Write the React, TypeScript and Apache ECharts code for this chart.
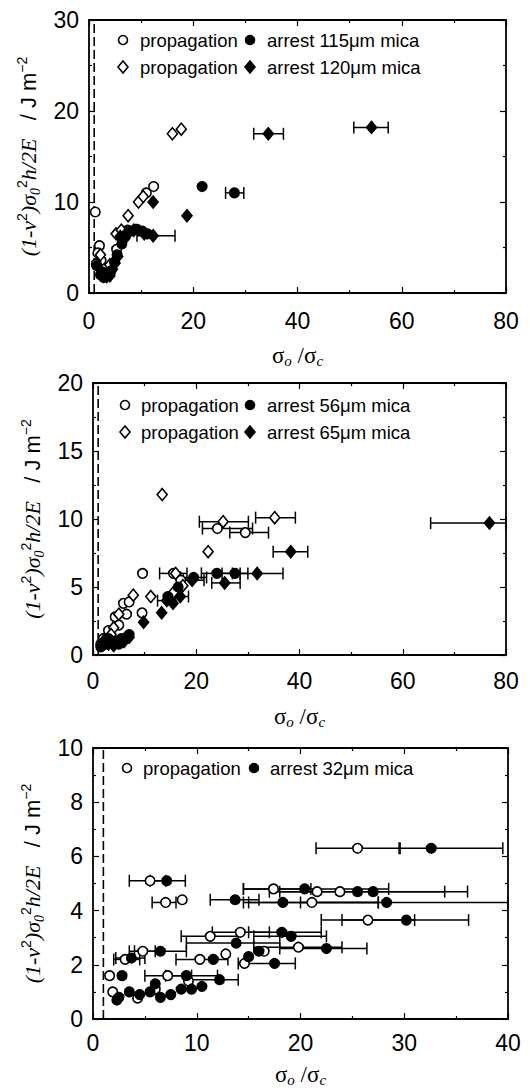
import React, { useEffect, useRef } from "react";
import * as echarts from "echarts";

// Tuples: [x, y] or [x, y, xLow, xHigh] (horizontal error bar)
// Panel 1 — 115 µm and 120 µm mica
const p1OpenCircle = [[1.2, 8.9], [2.0, 5.2], [1.7, 4.4], [2.3, 3.6], [2.8, 2.6], [3.5, 2.2], [4.3, 2.9], [5.3, 4.8], [6.4, 5.8], [7.4, 6.9], [11.0, 11.0], [12.4, 11.7], [1.4, 3.2], [9.0, 7.0]];
const p1FilledCircle = [[1.5, 3.0], [2.2, 2.0], [2.8, 1.7], [3.5, 2.0], [4.2, 2.4], [4.9, 3.4], [5.4, 4.2], [6.3, 5.4], [7.0, 6.2], [8.0, 6.8], [9.2, 7.0], [10.2, 6.8], [11.2, 6.5], [21.7, 11.7], [27.9, 11.0, 26.2, 29.7]];
const p1OpenDiamond = [[7.5, 8.5], [9.5, 10.0], [10.4, 10.6], [16.0, 17.5], [17.7, 18.0], [5.2, 6.5], [6.2, 6.9], [3.0, 2.1], [4.0, 3.1], [2.2, 4.2]];
const p1FilledDiamond = [[2.5, 2.3], [3.4, 1.8], [4.5, 2.6], [5.5, 4.0], [6.0, 6.2], [7.2, 6.6], [8.6, 6.9], [10.6, 6.5], [12.3, 6.3, 9.2, 16.5], [12.3, 10.0], [18.8, 8.5], [34.4, 17.5, 31.6, 37.3], [54.2, 18.2, 50.8, 57.4], [4.0, 1.9], [5.0, 3.3]];

// Panel 2 — 56 µm and 65 µm mica
const p2OpenCircle = [[24.1, 9.3, 21.2, 30.9], [29.5, 9.0, 26.5, 34.0], [9.6, 6.0], [15.6, 6.0, 12.9, 18.2], [5.9, 3.8], [4.3, 2.8], [9.5, 3.1], [6.5, 3.0], [3.0, 1.8], [2.0, 1.2], [1.5, 0.8], [5.0, 2.2], [7.0, 3.9], [17.0, 5.5]];
const p2FilledCircle = [[24.0, 6.0, 21.0, 27.0], [27.5, 6.0, 25.0, 30.0], [19.5, 5.7, 17.0, 22.0], [16.5, 5.0], [14.5, 4.3], [1.5, 0.6], [2.5, 0.8], [3.5, 1.0], [4.5, 1.0], [5.5, 1.2], [6.5, 1.3], [7.0, 1.5], [3.0, 1.2], [2.0, 0.9], [5.0, 0.8]];
const p2OpenDiamond = [[13.4, 11.8], [35.2, 10.1, 31.5, 39.2], [25.2, 9.8, 20.6, 30.1], [22.3, 7.6], [7.8, 4.4], [11.2, 4.3], [15.6, 4.6], [17.4, 5.1], [16.0, 6.0], [5.0, 3.0], [4.0, 2.0], [2.0, 1.0], [3.5, 1.5]];
const p2FilledDiamond = [[76.8, 9.7, 65.4, 80.0], [38.3, 7.6, 34.9, 41.6], [31.8, 6.0, 28.5, 36.8], [25.5, 5.3, 23.0, 28.5], [19.2, 5.5, 17.5, 21.5], [16.9, 4.3, 15.0, 18.5], [14.3, 4.0, 12.5, 16.0], [13.3, 3.1], [9.8, 2.4], [15.5, 3.8], [3.0, 0.8], [4.0, 0.7], [6.0, 1.0], [7.0, 1.3]];

// Panel 3 — 32 µm mica
const p3OpenCircle = [[25.5, 6.3, 21.5, 29.5], [5.5, 5.1, 3.5, 7.0], [7.0, 4.3, 5.7, 8.0], [8.6, 4.4], [17.4, 4.8, 14.5, 21.0], [21.6, 4.7], [21.1, 4.3, 15.0, 27.5], [23.8, 4.7], [26.5, 3.65, 22.0, 31.0], [14.2, 3.2, 11.5, 17.0], [11.3, 3.05, 8.5, 14.0], [19.8, 2.65, 15.5, 24.0], [14.6, 2.05], [10.3, 2.2, 8.0, 13.0], [4.8, 2.5, 3.5, 6.0], [3.1, 2.2, 2.0, 4.5], [1.6, 1.6], [7.2, 1.6, 5.0, 9.5], [1.9, 1.0], [4.3, 0.77], [9.2, 1.4], [6.0, 1.1], [12.8, 2.4], [16.5, 2.5]];
const p3FilledCircle = [[32.6, 6.3, 29.6, 39.5], [7.1, 5.1, 5.5, 8.9], [13.7, 4.4, 11.3, 16.0], [18.3, 4.3, 14.5, 27.5], [28.3, 4.3, 20.0, 40.0], [20.4, 4.8, 14.5, 28.5], [25.5, 4.7, 17.0, 33.9], [27.0, 4.7, 18.0, 36.1], [30.2, 3.65, 24.0, 36.2], [18.2, 3.2, 15.0, 22.0], [19.1, 3.05, 15.5, 22.5], [22.5, 2.6, 18.0, 26.4], [17.5, 2.05, 14.0, 19.5], [13.8, 2.8, 9.0, 18.0], [11.6, 2.2], [6.5, 2.5, 4.0, 9.0], [3.7, 2.25, 2.2, 5.0], [2.8, 1.6], [9.0, 1.6, 7.0, 12.0], [12.2, 1.45, 9.0, 14.0], [2.5, 0.8], [3.5, 1.0], [4.5, 0.9], [5.5, 1.0], [6.5, 0.8], [7.5, 0.9], [8.5, 1.1], [9.5, 1.1], [10.5, 1.2], [2.3, 0.7], [6.0, 1.3], [16.0, 2.5], [15.0, 2.3]];

// Axis ranges / tick intervals per panel
const panelXMax = [80, 80, 40];
const panelXInterval = [20, 20, 10];
const panelYMax = [30, 20, 10];
const panelYInterval = [10, 5, 2];
const dashedX = 1;

const legendRows = [
  [["circle", "propagation", "arrest 115μm mica"], ["diamond", "propagation", "arrest 120μm mica"]],
  [["circle", "propagation", "arrest 56μm mica"], ["diamond", "propagation", "arrest 65μm mica"]],
  [["circle", "propagation", "arrest 32μm mica"]],
];

const SANS = "Liberation Sans";
const SERIF = "Liberation Serif";

const grids = [
  { left: 89, top: 20, width: 417, height: 273 },
  { left: 93, top: 383, width: 413, height: 272 },
  { left: 93, top: 748, width: 415, height: 271 },
];
const xNameGaps = [49, 48, 42];
const xLabelMargins = [16, 14, 12];
const legendPos = [
  { y: [40, 67], s1: 123, t1: 140, s2: 250, t2: 267 },
  { y: [405, 432], s1: 125, t1: 141, s2: 250, t2: 267 },
  { y: [768], s1: 127, t1: 143, s2: 254, t2: 270 },
];

const yName = "{i|(1-ν}{sup|2}{i|)σ}{sub|0}{sup|2}{i|h/2E}{r|   / J m}{sup|−2}";
const xName = "{s|σ}{sub|o}{s| /σ}{sub|c}";

function errRender(params: any, api: any) {
  const y = api.value(2);
  const lo = api.coord([api.value(0), y]);
  const hi = api.coord([api.value(1), y]);
  const style = { stroke: "#000", lineWidth: 1.5 };
  return {
    type: "group",
    children: [
      { type: "line", shape: { x1: lo[0], y1: lo[1], x2: hi[0], y2: hi[1] }, style },
      { type: "line", shape: { x1: lo[0], y1: lo[1] - 6, x2: lo[0], y2: lo[1] + 6 }, style },
      { type: "line", shape: { x1: hi[0], y1: hi[1] - 6, x2: hi[0], y2: hi[1] + 6 }, style },
    ],
  };
}

function buildOption() {
  const xAxis: any[] = [];
  const yAxis: any[] = [];
  const series: any[] = [];
  const graphic: any[] = [];

  const axisCommon = {
    type: "value",
    axisLine: { show: true, onZero: false, lineStyle: { color: "#000", width: 1.8 } },
    axisTick: { show: true, inside: true, length: 6, lineStyle: { color: "#000", width: 1.2 } },
    minorTick: { show: true, splitNumber: 2, length: 3, lineStyle: { color: "#000", width: 1.2 } },
    splitLine: { show: false },
    minorSplitLine: { show: false },
  };
  const labelStyle = { color: "#000", fontSize: 23, fontFamily: SANS };

  grids.forEach((g, i) => {
    xAxis.push({
      ...axisCommon, gridIndex: i, position: "bottom", min: 0, max: panelXMax[i], interval: panelXInterval[i],
      axisLabel: { ...labelStyle, margin: xLabelMargins[i] },
      name: xName, nameLocation: "middle", nameGap: xNameGaps[i],
      nameTextStyle: {
        rich: {
          s: { fontFamily: SERIF, fontSize: 23, color: "#000", lineHeight: 26 },
          sub: { fontFamily: SERIF, fontStyle: "italic", fontSize: 15, color: "#000", verticalAlign: "bottom", lineHeight: 15 },
        },
      },
    });
    xAxis.push({
      ...axisCommon, gridIndex: i, position: "top", min: 0, max: panelXMax[i], interval: panelXInterval[i],
      axisLabel: { show: false },
    });
    yAxis.push({
      ...axisCommon, gridIndex: i, position: "left", min: 0, max: panelYMax[i], interval: panelYInterval[i],
      axisLabel: { ...labelStyle, margin: 10 },
      name: yName, nameLocation: "middle", nameGap: 46, nameRotate: 90,
      nameTextStyle: {
        rich: {
          i: { fontFamily: SERIF, fontStyle: "italic", fontSize: 22, color: "#000", lineHeight: 28 },
          r: { fontFamily: SANS, fontSize: 22, color: "#000", lineHeight: 28 },
          sup: { fontFamily: SANS, fontSize: 14, color: "#000", verticalAlign: "top", lineHeight: 14 },
          sub: { fontFamily: SERIF, fontStyle: "italic", fontSize: 14, color: "#000", verticalAlign: "bottom", lineHeight: 14 },
        },
      },
    });
    yAxis.push({
      ...axisCommon, gridIndex: i, position: "right", min: 0, max: panelYMax[i], interval: panelYInterval[i],
      axisLabel: { show: false },
    });

    const ax = { xAxisIndex: 2 * i, yAxisIndex: 2 * i };
    series.push({
      type: "line", ...ax, data: [[dashedX, 0], [dashedX, panelYMax[i]]], symbol: "none", silent: true,
      lineStyle: { color: "#000", width: 1.6, type: [9, 4] }, z: 1,
    });
  });

  const groups: any[] = [
    [0, p1OpenCircle, "circle", false], [0, p1FilledCircle, "circle", true],
    [0, p1OpenDiamond, "diamond", false], [0, p1FilledDiamond, "diamond", true],
    [1, p2OpenCircle, "circle", false], [1, p2FilledCircle, "circle", true],
    [1, p2OpenDiamond, "diamond", false], [1, p2FilledDiamond, "diamond", true],
    [2, p3OpenCircle, "circle", false], [2, p3FilledCircle, "circle", true],
  ];
  groups.forEach(([gi, arr, sym, filled]) => {
    const ax = { xAxisIndex: 2 * gi, yAxisIndex: 2 * gi };
    const errs = arr.filter((p: number[]) => p.length >= 4).map((p: number[]) => [p[2], p[3], p[1]]);
    if (errs.length) {
      series.push({
        type: "custom", ...ax, renderItem: errRender, data: errs, encode: { x: [0, 1], y: 2 }, z: 2, silent: true,
      });
    }
    series.push({
      type: "scatter", ...ax, data: arr.map((p: number[]) => [p[0], p[1]]),
      symbol: sym, symbolSize: sym === "circle" ? 9.5 : [10, 12],
      itemStyle: { color: filled ? "#000" : "#fff", borderColor: "#000", borderWidth: 1.6, opacity: 1 },
      z: filled ? 4 : 3, silent: true,
    });
  });

  legendPos.forEach((lp, i) => {
    legendRows[i].forEach((row, r) => {
      const cy = lp.y[r];
      const sym = row[0];
      [[lp.s1, false], [lp.s2, true]].forEach(([cx, filled]: any) => {
        const style = { fill: filled ? "#000" : "#fff", stroke: "#000", lineWidth: 1.6 };
        if (sym === "circle") graphic.push({ type: "circle", shape: { cx, cy, r: 4.5 }, style });
        else graphic.push({ type: "polygon", shape: { points: [[cx, cy - 6], [cx + 5, cy], [cx, cy + 6], [cx - 5, cy]] }, style });
      });
      graphic.push({ type: "text", x: lp.t1, y: cy, style: { text: row[1], fontSize: 18.5, fontFamily: SANS, fill: "#000", verticalAlign: "middle", align: "left" } });
      graphic.push({ type: "text", x: lp.t2, y: cy, style: { text: row[2], fontSize: 18.5, fontFamily: SANS, fill: "#000", verticalAlign: "middle", align: "left" } });
    });
  });

  return {
    animation: false,
    backgroundColor: "#fff",
    grid: grids.map((g) => ({ ...g, containLabel: false })),
    xAxis, yAxis, series, graphic,
  };
}

export default function App() {
  const ref = useRef<HTMLDivElement>(null);
  useEffect(() => {
    if (!ref.current) return;
    const chart = echarts.init(ref.current, undefined, { renderer: "svg" });
    chart.setOption(buildOption() as any);
    return () => chart.dispose();
  }, []);
  return <div ref={ref} style={{ position: "absolute", left: 0, top: 0, width: 530, height: 1090 }} />;
}
